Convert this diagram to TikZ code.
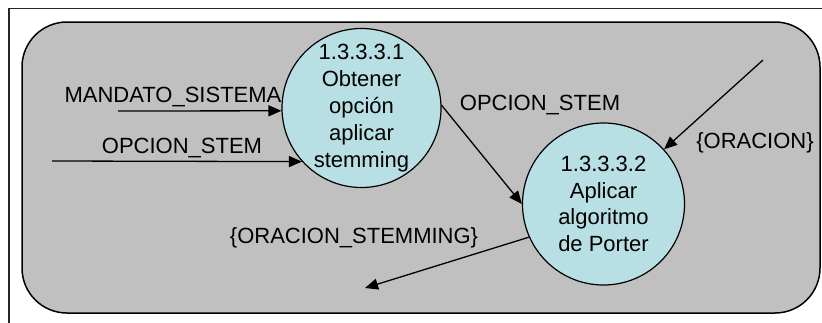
\documentclass[tikz,border=0pt]{standalone}
\usepackage{fontspec}
\setmainfont{Liberation Sans}
\usetikzlibrary{arrows.meta}
\definecolor{panelgray}{RGB}{192,192,192}
\definecolor{bubble}{RGB}{184,223,227}
\tikzset{
  process/.style={circle, draw=black, line width=1.2pt, fill=bubble, inner sep=0pt, align=center},
  flow/.style={line width=1.3pt, -{Triangle[length=13pt,width=11pt]}},
  flowlabel/.style={anchor=base, inner sep=0pt},
}
\begin{document}
\begin{tikzpicture}[x=1pt, y=-1pt, font=\fontsize{22}{26.8}\selectfont]
  \useasboundingbox (0,0) rectangle (822,322);
  % outer frame (only top and left edges fall inside the page)
  \draw[line width=1.8pt, black!85] (840,8.5) -- (9,8.5) -- (9,340);
  % rounded context panel
  \draw[line width=1.5pt, fill=panelgray, rounded corners=45pt] (22,22) rectangle (820,313);

  % processes
  \node[process, minimum size=159pt] (p1) at (361.5,108)
    {1.3.3.3.1\\Obtener\\opción\\aplicar\\stemming};
  \node[process, minimum size=162pt] (p2) at (603.5,204)
    {1.3.3.3.2\\Aplicar\\algoritmo~\\de Porter};

  % free ends of the flows
  \coordinate (inMandato) at (118,111);
  \coordinate (inOpcion) at (52,161);
  \coordinate (inOracion) at (763,60);
  \coordinate (outStem) at (365,288);

  % flows
  \draw[flow] (inMandato) -- (p1.182.5);
  \draw[flow] (inOpcion) -- (p1.222.3);
  \draw[flow] (p1.2) -- (p2.180);
  \draw[flow] (inOracion) -- (p2);
  \draw[flow] (p2.204) -- (outStem);

  % flow labels
  \node[flowlabel] (lMandato) at (173,102) {MANDATO\_SISTEMA};
  \node[flowlabel] (lOpcionIn) at (182,153) {OPCION\_STEM};
  \node[flowlabel] (lOpcion) at (540,110) {OPCION\_STEM};
  \node[flowlabel] (lOracion) at (755,148) {\{ORACION\}};
  \node[flowlabel] (lStem) at (354,243) {\{ORACION\_STEMMING\}};
\end{tikzpicture}
\end{document}
